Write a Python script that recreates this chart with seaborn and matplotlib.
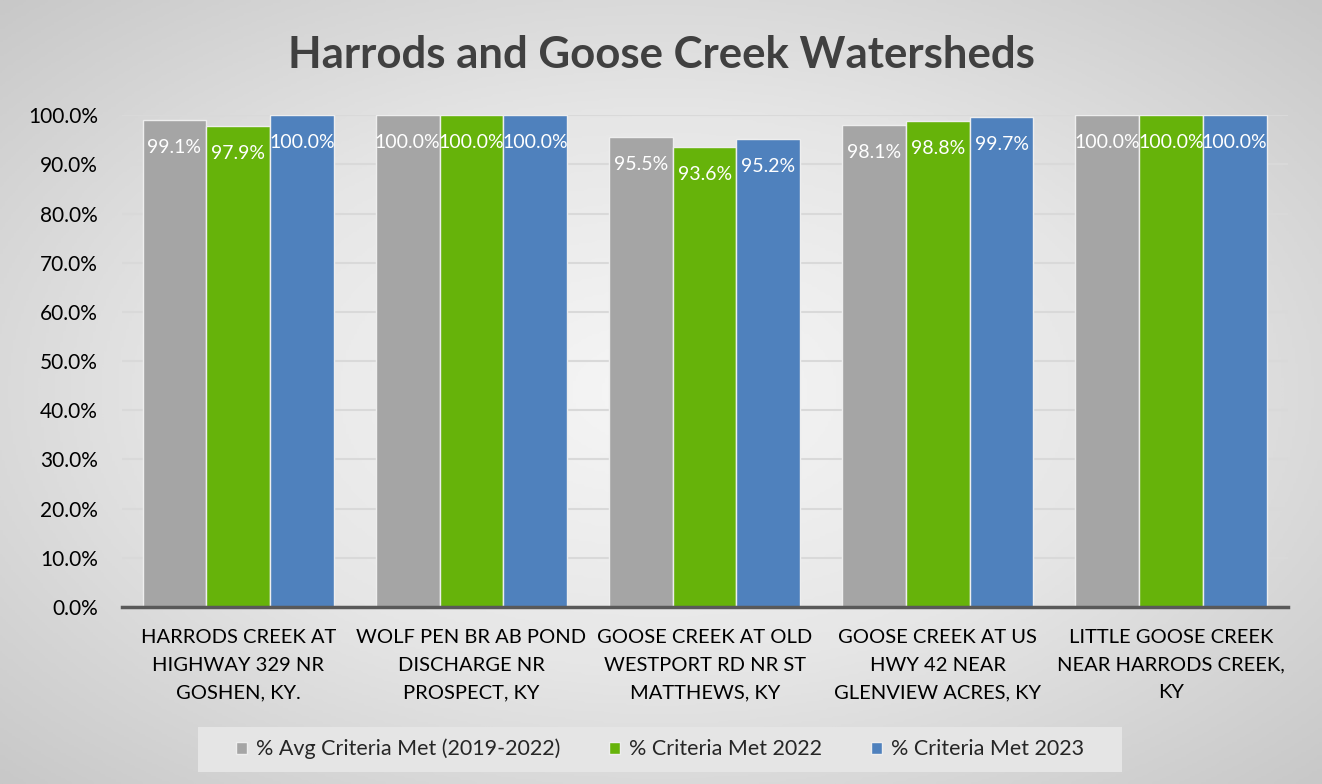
import numpy as np
import pandas as pd
import seaborn as sns
import matplotlib.pyplot as plt
from matplotlib.ticker import PercentFormatter
from matplotlib.colors import LinearSegmentedColormap
from matplotlib.patches import Rectangle

sites = ["HARRODS CREEK AT\nHIGHWAY 329 NR\nGOSHEN, KY.",
         "WOLF PEN BR AB POND\nDISCHARGE NR\nPROSPECT, KY",
         "GOOSE CREEK AT OLD\nWESTPORT RD NR ST\nMATTHEWS, KY",
         "GOOSE CREEK AT US\nHWY 42 NEAR\nGLENVIEW ACRES, KY",
         "LITTLE GOOSE CREEK\nNEAR HARRODS CREEK,\nKY"]
series = ["% Avg Criteria Met (2019-2022)", "% Criteria Met 2022", "% Criteria Met 2023"]
avg_19_22 = [0.991, 1.000, 0.955, 0.981, 1.000]
met_2022 = [0.979, 1.000, 0.936, 0.988, 1.000]
met_2023 = [1.000, 1.000, 0.952, 0.997, 1.000]
colors = ["#a5a5a5", "#66b30a", "#4f81bd"]

# long format for seaborn
df = pd.DataFrame({
    "site": sites * 3,
    "series": [series[0]] * 5 + [series[1]] * 5 + [series[2]] * 5,
    "value": avg_19_22 + met_2022 + met_2023,
})

sns.set_theme(style="white")
plt.rcParams["font.family"] = ["Lato", "DejaVu Sans"]

fig = plt.figure(figsize=(13.22, 7.84), dpi=100)

# radial gradient background
bg = fig.add_axes([0, 0, 1, 1])
yy, xx = np.mgrid[-1:1:300j, -1:1:500j]
r = np.sqrt(xx ** 2 + yy ** 2) / np.sqrt(2)
cmap = LinearSegmentedColormap.from_list("bg", ["#f6f6f6", "#e6e6e6", "#c8c8c8"])
bg.imshow(r, cmap=cmap, aspect="auto", extent=[0, 1, 0, 1], vmin=0, vmax=1)
# legend box, drawn on the background layer
bg.add_patch(Rectangle((198 / 1322, 1 - 772 / 784), 924 / 1322, 45 / 784,
                       transform=fig.transFigure, facecolor="#e5e5e5",
                       edgecolor="none", zorder=3))
bg.axis("off")

ax = fig.add_axes([0.092, 0.226, 0.882, 0.627])
ax.patch.set_alpha(0)
sns.barplot(data=df, x="site", y="value", hue="series", palette=colors,
            saturation=1, width=0.82, edgecolor="#eeeeee", linewidth=1, ax=ax)

for c in ax.containers:
    ax.bar_label(c, labels=[f"{v * 100:.1f}%" for v in c.datavalues],
                 padding=-26, color="white", fontsize=14)

ax.set_ylim(0, 1.0)
ax.set_yticks(np.arange(0, 1.01, 0.1))
ax.yaxis.set_major_formatter(PercentFormatter(1.0, decimals=1))
ax.set_xlim(-0.5, 4.5)
ax.set_xlabel("")
ax.set_ylabel("")
ax.yaxis.grid(True, color="#d9d9d9", linewidth=1.5)
ax.set_axisbelow(True)
for s in ["top", "right", "left"]:
    ax.spines[s].set_visible(False)
ax.spines["bottom"].set_color("#595959")
ax.spines["bottom"].set_linewidth(2.5)
ax.tick_params(axis="y", length=0, pad=17, labelsize=15, labelcolor="black")
ax.tick_params(axis="x", length=0, pad=16, labelsize=14.5, labelcolor="black")
ax.set_xticks(range(len(sites)))
ax.set_xticklabels(sites, linespacing=1.75, ha="center")

ax.legend(loc="center", bbox_to_anchor=(660 / 1322, 1 - 749 / 784),
          bbox_transform=fig.transFigure, ncol=3, frameon=False,
          fontsize=15.5, handlelength=0.5, handleheight=0.5, handletextpad=0.4,
          columnspacing=2.3)

fig.text(0.5, 1 - 55 / 784, "Harrods and Goose Creek Watersheds", ha="center",
         va="center", fontsize=31.5, fontweight="bold", color="#404040")

fig.savefig("out.png", dpi=100)
